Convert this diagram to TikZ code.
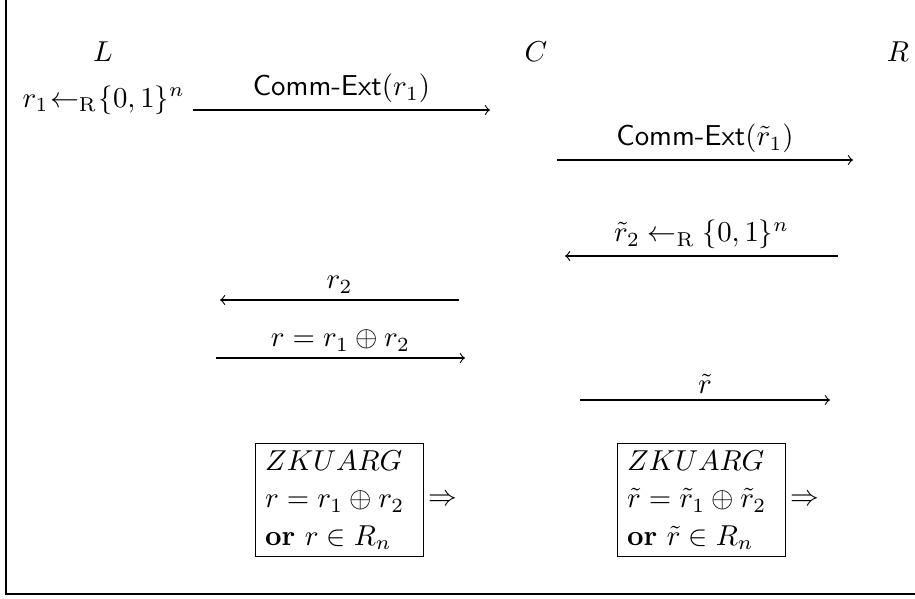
\documentclass[tikz,border=0pt]{standalone}
\usepackage{amsmath}
\begin{document}
\begin{tikzpicture}[x=0.3472pt,y=-0.3472pt,
  msg/.style={->, line width=0.4pt},
  lbl/.style={above, inner sep=2.2pt},
  party/.style={inner sep=0pt, anchor=base},
  proofbox/.style={draw, line width=0.4pt, align=left, text width=51.7pt, inner xsep=3.3pt, inner ysep=2.6pt, anchor=north west},
  implies/.style={anchor=west, inner sep=1.3pt}]
\useasboundingbox (0,0) rectangle (915,598);

% frame
\draw[line width=0.6pt] (6,0) -- (6,594) -- (915,594);

% parties
\node[party] (L) at (103,61) {$L$};
\node[party] (C) at (536,61) {$C$};
\node[party] (R) at (898,61) {$R$};

% L samples r_1
\node[inner sep=0pt, anchor=base west] (samp) at (22,107) {$r_1\mkern1mu{\leftarrow_{\mathrm{R}}}\mkern1mu\{0,1\}^n$};

% message endpoints
\coordinate (a1s) at (193,110); \coordinate (a1e) at (490,110);
\coordinate (a2s) at (557,160); \coordinate (a2e) at (853,160);
\coordinate (a3s) at (838,256); \coordinate (a3e) at (565,256);
\coordinate (a4s) at (459,300); \coordinate (a4e) at (220,300);
\coordinate (a5s) at (216,358); \coordinate (a5e) at (465,358);
\coordinate (a6s) at (580,400); \coordinate (a6e) at (830,400);

% messages
\draw[msg] (a1s) -- node[lbl] (m1) {\textsf{Comm-Ext}$(r_1)$} (a1e);
\draw[msg] (a2s) -- node[lbl] (m2) {\textsf{Comm-Ext}$(\tilde r_1)$} (a2e);
\draw[msg] (a3s) -- node[lbl] (m3) {$\tilde r_2 \leftarrow_{\mathrm{R}} \{0,1\}^n$} (a3e);
\draw[msg] (a4s) -- node[lbl] (m4) {$r_2$} (a4e);
\draw[msg] (a5s) -- node[lbl] (m5) {$r = r_1 \oplus r_2$} (a5e);
\draw[msg] (a6s) -- node[lbl] (m6) {$\tilde r$} (a6e);

% proof boxes
\node[proofbox] (zk1) at (255,443) {$ZKUARG$\\[0.9pt] $r = r_1 \oplus r_2$\\[0.9pt] $\textbf{or } r \in R_n$};
\node[implies] (imp1) at (zk1.east) {$\Rightarrow$};
\node[proofbox] (zk2) at (617,443) {$ZKUARG$\\[0.9pt] $\tilde r = \tilde r_1 \oplus \tilde r_2$\\[0.9pt] $\textbf{or } \tilde r \in R_n$};
\node[implies] (imp2) at (zk2.east) {$\Rightarrow$};
\end{tikzpicture}
\end{document}
